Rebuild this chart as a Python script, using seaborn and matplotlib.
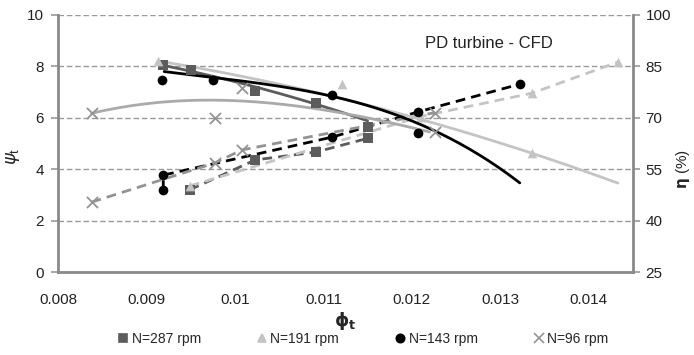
import numpy as np
import pandas as pd
import matplotlib
matplotlib.use("Agg")
import matplotlib.pyplot as plt
import seaborn as sns
from matplotlib.lines import Line2D

sns.set_theme(style="white")
plt.rcParams["font.family"] = ["Liberation Sans", "DejaVu Sans"]
plt.rcParams["mathtext.fontset"] = "dejavusans"

# ---------------- data ----------------
labels = ["N=287 rpm", "N=191 rpm", "N=143 rpm", "N=96 rpm"]

# head coefficient psi_t (left axis, dashed connecting lines)
phi_psi_287 = [0.00949, 0.01023, 0.01092, 0.0115]
psi_287 = [3.2, 4.36, 4.67, 5.2]
phi_psi_191 = [0.00949, 0.0121, 0.01336, 0.01433]
psi_191 = [3.35, 6.05, 6.96, 8.17]
phi_psi_143 = [0.00919, 0.00919, 0.0111, 0.01207, 0.01322]
psi_143 = [3.19, 3.77, 5.25, 6.23, 7.31]
phi_psi_96 = [0.00838, 0.00977, 0.01008, 0.01226]
psi_96 = [2.72, 4.24, 4.75, 6.2]

# efficiency eta (%) (right axis, markers)
phi_eta_287 = [0.00919, 0.0095, 0.01023, 0.01092, 0.0115]
eta_287 = [85.4, 83.9, 77.8, 74.4, 67.4]
phi_eta_191 = [0.00913, 0.01121, 0.01336]
eta_191 = [86.6, 79.9, 59.7]
phi_eta_143 = [0.00918, 0.00975, 0.0111, 0.01207]
eta_143 = [81.0, 81.0, 76.7, 65.6]
phi_eta_96 = [0.00838, 0.00977, 0.01008, 0.01226]
eta_96 = [71.4, 70.0, 78.8, 65.9]

# points (eta, %)
trend_phi_287 = [0.00919, 0.01023, 0.01092, 0.0115]
trend_eta_287 = [85.4, 78.6, 74.5, 68.9]
trend_phi_191 = [0.00913, 0.0112, 0.01336, 0.01433]
trend_eta_191 = [86.6, 75.6, 59.7, 50.9]
trend_phi_143 = [0.0092, 0.0104, 0.01198, 0.01322]
trend_eta_143 = [83.5, 79.6, 69.3, 51.0]
trend_phi_96 = [0.00838, 0.0093, 0.0098, 0.0104, 0.0108, 0.0113, 0.0122]
trend_eta_96 = [71.4, 74.5, 75.2, 74.5, 73.5, 70.4, 66.0]

x_ticks = [0.008, 0.009, 0.01, 0.011, 0.012, 0.013, 0.014]
x_tick_labels = ["0.008", "0.009", "0.01", "0.011", "0.012", "0.013", "0.014"]
psi_ticks = [0, 2, 4, 6, 8, 10]
eta_ticks = [25, 40, 55, 70, 85, 100]

# ---------------- styles ----------------
colors = ["#5c5c5c", "#c4c4c4", "#000000", "#939393"]
trend_colors = ["#5c5c5c", "#c4c4c4", "#000000", "#aaaaaa"]
markers = ["s", "^", "o", "x"]
msizes = [7, 7, 7, 8]
trend_deg = [2, 2, 3, 3]

psi_phi = [phi_psi_287, phi_psi_191, phi_psi_143, phi_psi_96]
psi_val = [psi_287, psi_191, psi_143, psi_96]
eta_phi = [phi_eta_287, phi_eta_191, phi_eta_143, phi_eta_96]
eta_val = [eta_287, eta_191, eta_143, eta_96]
tr_phi = [trend_phi_287, trend_phi_191, trend_phi_143, trend_phi_96]
tr_eta = [trend_eta_287, trend_eta_191, trend_eta_143, trend_eta_96]

fig = plt.figure(figsize=(6.94, 3.55), dpi=100)
ax = fig.add_axes([58 / 694, 1 - 272 / 355, (633 - 58) / 694, (272 - 15) / 355])
ax2 = ax.twinx()

def scatter(a, df, x, y, i):
    is_x = markers[i] == "x"
    sns.scatterplot(data=df, x=x, y=y, ax=a, color=colors[i], marker=markers[i],
                    s=msizes[i] ** 2, linewidth=1.3 if is_x else 0,
                    edgecolor=None if is_x else colors[i], zorder=4)

# ψ series: dashed lines with markers
for i in range(4):
    df = pd.DataFrame({"phi": psi_phi[i], "psi": psi_val[i]})
    sns.lineplot(data=df, x="phi", y="psi", sort=False, estimator=None, ax=ax,
                 color=colors[i], lw=2.0, linestyle=(0, (3.5, 2.2)), zorder=3)
    scatter(ax, df, "phi", "psi", i)

# η series: markers + polynomial trend lines
for i in range(4):
    coef = np.polyfit(tr_phi[i], tr_eta[i], trend_deg[i])
    xs = np.linspace(min(tr_phi[i]), max(tr_phi[i]), 150)
    tdf = pd.DataFrame({"phi": xs, "eta": np.polyval(coef, xs)})
    sns.lineplot(data=tdf, x="phi", y="eta", ax=ax2, color=trend_colors[i], lw=2.0, zorder=3)
    df = pd.DataFrame({"phi": eta_phi[i], "eta": eta_val[i]})
    scatter(ax2, df, "phi", "eta", i)

# axes formatting
ax.set_xlim(0.008, 0.0145)
ax.set_ylim(0, 10)
ax2.set_ylim(25, 100)
ax.set_xticks(x_ticks)
ax.set_xticklabels(x_tick_labels)
ax.set_yticks(psi_ticks)
ax2.set_yticks(eta_ticks)
ax.grid(axis="y", color="#9a9a9a", linestyle=(0, (4, 2)), lw=1.0)
ax.grid(axis="x", visible=False)
ax2.grid(False)

for a in (ax, ax2):
    for s in a.spines.values():
        s.set_visible(False)
spine_col = "#8a8a8a"
for a, side in ((ax, "left"), (ax, "bottom"), (ax2, "right")):
    a.spines[side].set_visible(True)
    a.spines[side].set_color(spine_col)
    a.spines[side].set_linewidth(2.0)

ax.tick_params(axis="both", which="major", labelsize=11, colors="#222222",
               length=5, width=1.2, direction="out")
ax.tick_params(axis="x", pad=10, color=spine_col)
ax.tick_params(axis="y", color="#9a9a9a", pad=5)
ax2.tick_params(axis="y", labelsize=11, colors="#222222", length=5, width=1.2,
                color="#9a9a9a", pad=4)

ax.set_xlabel(r"$\mathbf{\phi_t}$", fontsize=13, labelpad=2)
ax.set_ylabel(r"$\psi_\mathregular{t}$", fontsize=13)
ax.yaxis.set_label_coords(-0.063, 0.45)
ax2.set_ylabel(r"$\mathbf{\eta}$ (%)", fontsize=11)
ax2.yaxis.set_label_coords(1.072, 0.40)

ax.text(0.01287, 8.91, "PD turbine - CFD", fontsize=12, ha="center", va="center", color="#222222")

handles = [Line2D([], [], linestyle="none", marker=markers[i], color=colors[i],
                  markersize=msizes[i] - 1, markeredgewidth=1.2) for i in range(4)]
fig.legend(handles, labels, loc="lower center", bbox_to_anchor=(0.522, -0.01), ncol=4,
           frameon=False, fontsize=10, handletextpad=0.1, columnspacing=3.9,
           handlelength=1.0)

fig.savefig("out.png", dpi=100)
